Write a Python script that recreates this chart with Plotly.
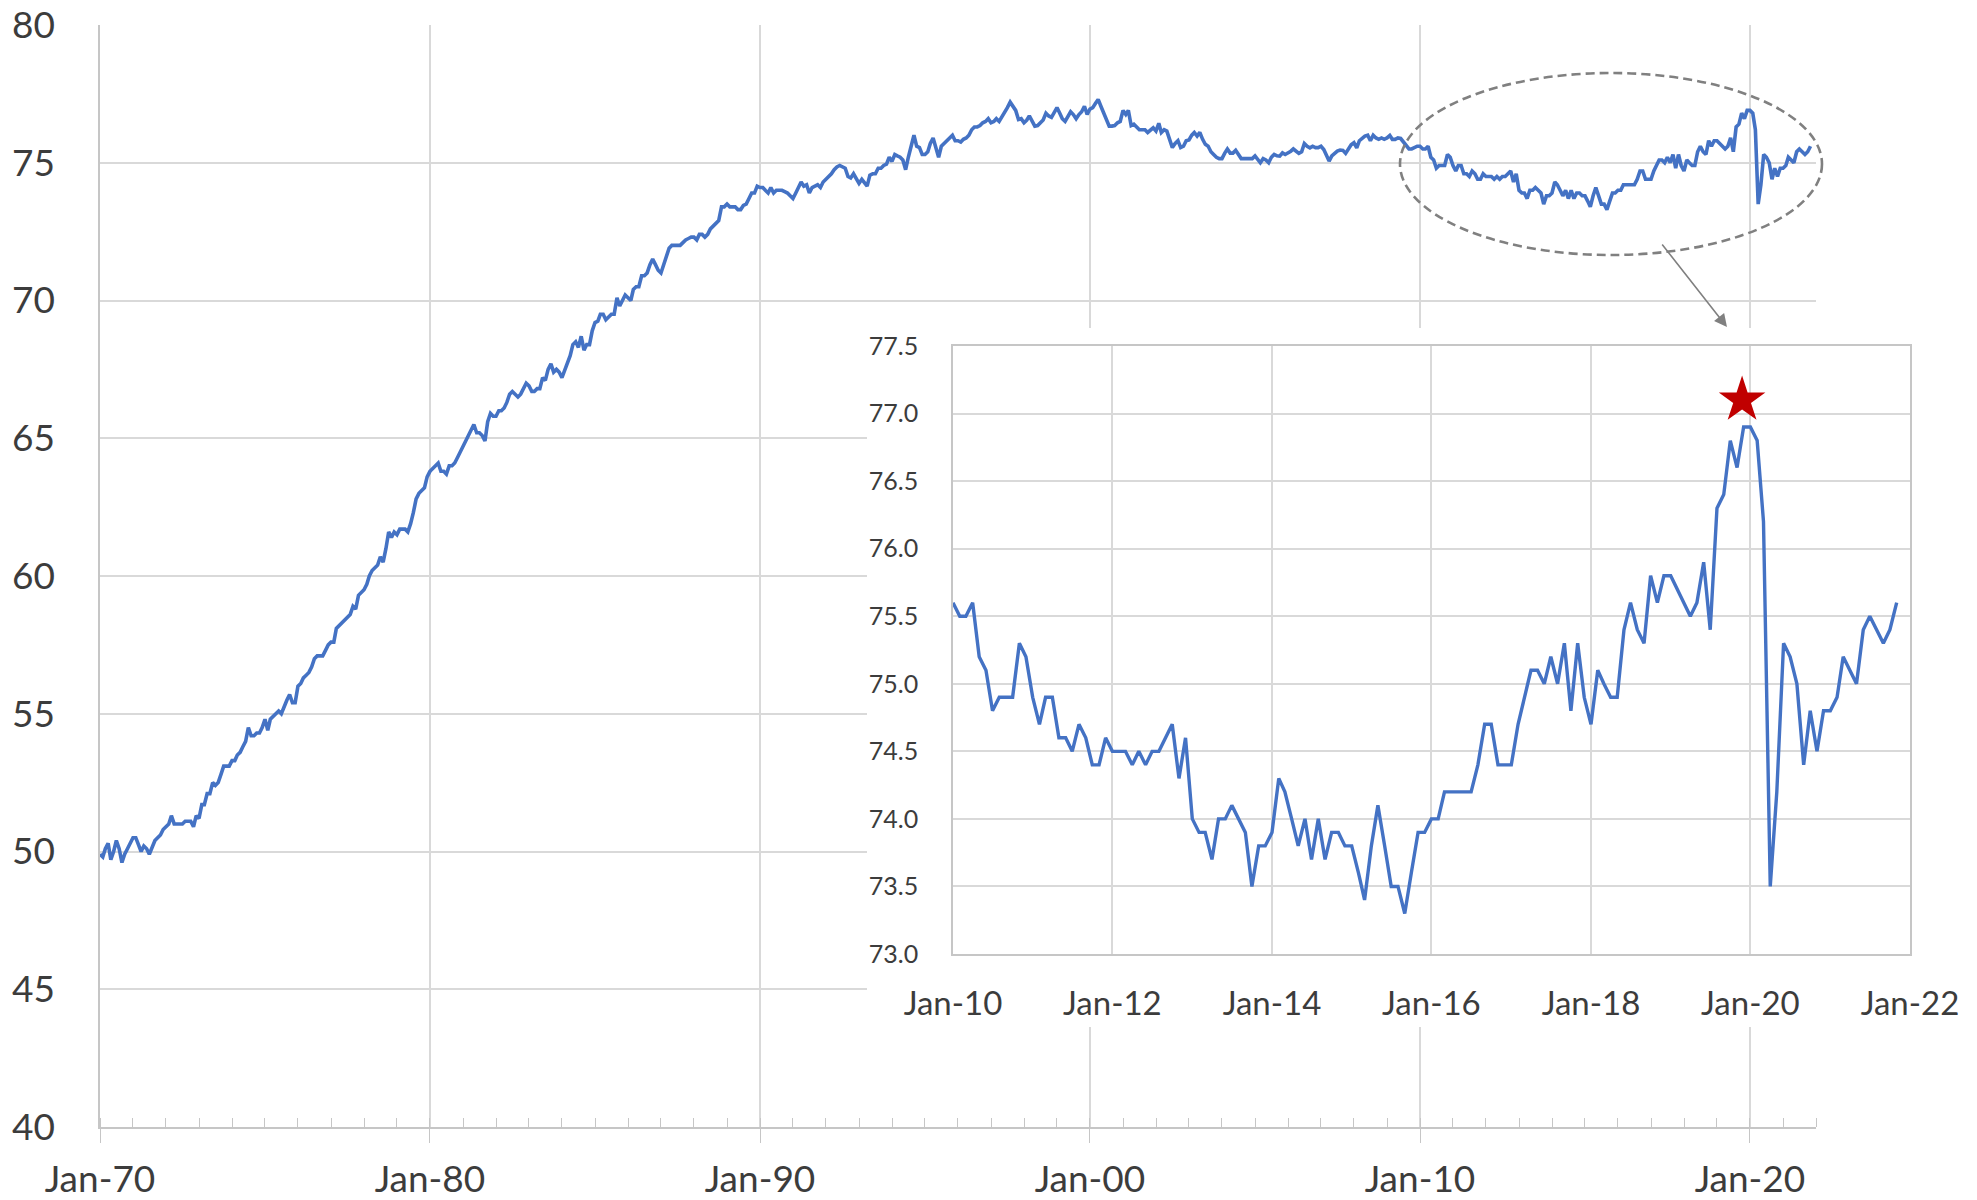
import pandas as pd
import plotly.graph_objects as go

# ---------------- data (monthly values) ----------------
v1970s = [
    49.9, 49.8, 50.1, 50.3, 49.7, 50.0, 50.4, 50.1, 49.6, 49.9, 50.1, 50.3,
    50.5, 50.5, 50.3, 50.0, 50.2, 50.1, 49.9, 50.2, 50.4, 50.5, 50.6, 50.8,
    50.9, 51.0, 51.3, 51.0, 51.0, 51.0, 51.0, 51.1, 51.1, 51.1, 50.9, 51.3,
    51.2, 51.7, 51.7, 52.1, 52.1, 52.5, 52.4, 52.5, 52.8, 53.1, 53.1, 53.1,
    53.3, 53.3, 53.5, 53.6, 53.8, 54.0, 54.5, 54.2, 54.2, 54.3, 54.3, 54.5,
    54.8, 54.4, 54.8, 54.9, 55.0, 55.1, 55.0, 55.3, 55.5, 55.7, 55.4, 55.4,
    56.0, 56.1, 56.3, 56.4, 56.5, 56.7, 57.0, 57.1, 57.1, 57.1, 57.3, 57.5,
    57.6, 57.6, 58.1, 58.2, 58.3, 58.4, 58.5, 58.6, 58.9, 58.8, 59.3, 59.4,
    59.5, 59.7, 60.0, 60.2, 60.3, 60.4, 60.7, 60.5, 61.0, 61.6, 61.4, 61.6,
    61.5, 61.7, 61.7, 61.7, 61.6, 61.9, 62.3, 62.8, 63.0, 63.1, 63.2, 63.6,
]
v1980s = [
    63.8, 63.9, 64.0, 64.1, 63.8, 63.8, 63.7, 64.0, 64.0, 64.1, 64.3, 64.5,
    64.7, 64.9, 65.1, 65.3, 65.5, 65.2, 65.2, 65.1, 64.9, 65.6, 65.9, 65.8,
    65.8, 66.0, 66.0, 66.1, 66.3, 66.6, 66.7, 66.6, 66.5, 66.6, 66.8, 67.0,
    66.9, 66.7, 66.7, 66.8, 66.8, 67.2, 67.1, 67.5, 67.7, 67.4, 67.5, 67.4,
    67.2, 67.5, 67.8, 68.0, 68.4, 68.5, 68.3, 68.7, 68.2, 68.4, 68.4, 68.9,
    69.2, 69.25, 69.5, 69.5, 69.3, 69.4, 69.5, 69.5, 70.1, 69.8, 70.0, 70.2,
    70.1, 70.0, 70.4, 70.5, 70.5, 70.9, 70.9, 71.0, 71.3, 71.5, 71.3, 71.1,
    71.0, 71.3, 71.6, 71.9, 72.0, 72.0, 72.0, 72.0, 72.1, 72.2, 72.25, 72.3,
    72.3, 72.2, 72.4, 72.4, 72.3, 72.4, 72.6, 72.7, 72.8, 72.9, 73.4, 73.4,
    73.5, 73.4, 73.4, 73.4, 73.3, 73.3, 73.45, 73.5, 73.7, 73.9, 73.9, 74.15,
]
v1990s = [
    74.1, 74.1, 74.0, 73.9, 74.1, 73.9, 74.0, 74.0, 74.0, 73.95, 73.9, 73.8,
    73.7, 73.9, 74.1, 74.3, 74.15, 74.2, 73.9, 74.1, 74.15, 74.2, 74.1, 74.3,
    74.4, 74.5, 74.6, 74.75, 74.85, 74.9, 74.85, 74.8, 74.5, 74.45, 74.6, 74.4,
    74.25, 74.4, 74.3, 74.15, 74.55, 74.6, 74.6, 74.8, 74.8, 74.9, 74.95, 75.2,
    75.05, 75.3, 75.25, 75.2, 75.1, 74.75, 75.2, 75.6, 76.0, 75.6, 75.55, 75.3,
    75.3, 75.4, 75.7, 75.9, 75.5, 75.2, 75.6, 75.7, 75.8, 75.9, 76.0, 75.8,
    75.8, 75.75, 75.85, 75.9, 76.0, 76.2, 76.3, 76.3, 76.35, 76.45, 76.5, 76.6,
    76.45, 76.5, 76.6, 76.5, 76.65, 76.85, 77.0, 77.2, 77.05, 76.9, 76.57, 76.6,
    76.45, 76.55, 76.7, 76.5, 76.33, 76.35, 76.45, 76.55, 76.8, 76.7, 76.65, 76.85,
    77.0, 76.8, 76.6, 76.5, 76.7, 76.85, 76.75, 76.6, 76.75, 76.85, 77.05, 76.75,
]
v2000s = [
    76.95, 77.0, 77.15, 77.3, 77.05, 76.8, 76.5, 76.33, 76.33, 76.35, 76.45, 76.5,
    76.9, 76.75, 76.9, 76.35, 76.4, 76.3, 76.2, 76.2, 76.2, 76.1, 76.2, 76.27,
    76.15, 76.43, 76.1, 76.2, 76.15, 75.8, 75.55, 75.7, 75.8, 75.55, 75.6, 75.8,
    75.83, 76.0, 76.1, 75.97, 76.1, 75.85, 75.67, 75.6, 75.4, 75.3, 75.2, 75.15,
    75.15, 75.35, 75.5, 75.35, 75.35, 75.45, 75.3, 75.15, 75.15, 75.15, 75.17, 75.15,
    75.25, 75.1, 75.0, 75.15, 75.1, 75.0, 75.2, 75.3, 75.25, 75.24, 75.36, 75.3,
    75.35, 75.42, 75.5, 75.4, 75.34, 75.4, 75.7, 75.6, 75.54, 75.6, 75.55, 75.55,
    75.6, 75.48, 75.3, 75.06, 75.25, 75.35, 75.42, 75.46, 75.45, 75.34, 75.5, 75.65,
    75.73, 75.54, 75.8, 75.9, 75.97, 76.0, 75.8, 76.0, 75.9, 75.85, 75.9, 75.85,
    75.9, 75.99, 75.85, 75.85, 75.9, 75.88, 75.75, 75.6, 75.5, 75.5, 75.55, 75.6,
]
v2010s = [
    75.6, 75.5, 75.5, 75.6, 75.2, 75.1, 74.8, 74.9, 74.9, 74.9, 75.3, 75.2,
    74.9, 74.7, 74.9, 74.9, 74.6, 74.6, 74.5, 74.7, 74.6, 74.4, 74.4, 74.6,
    74.5, 74.5, 74.5, 74.4, 74.5, 74.4, 74.5, 74.5, 74.6, 74.7, 74.3, 74.6,
    74.0, 73.9, 73.9, 73.7, 74.0, 74.0, 74.1, 74.0, 73.9, 73.5, 73.8, 73.8,
    73.9, 74.3, 74.2, 74.0, 73.8, 74.0, 73.7, 74.0, 73.7, 73.9, 73.9, 73.8,
    73.8, 73.6, 73.4, 73.8, 74.1, 73.8, 73.5, 73.5, 73.3, 73.6, 73.9, 73.9,
    74.0, 74.0, 74.2, 74.2, 74.2, 74.2, 74.2, 74.4, 74.7, 74.7, 74.4, 74.4,
    74.4, 74.7, 74.9, 75.1, 75.1, 75.0, 75.2, 75.0, 75.3, 74.8, 75.3, 74.9,
    74.7, 75.1, 75.0, 74.9, 74.9, 75.4, 75.6, 75.4, 75.3, 75.8, 75.6, 75.8,
    75.8, 75.7, 75.6, 75.5, 75.6, 75.9, 75.4, 76.3, 76.4, 76.8, 76.6, 76.9,
]
v2020s = [
    76.9, 76.8, 76.2, 73.5, 74.2, 75.3, 75.2, 75.0, 74.4, 74.8, 74.5, 74.8,
    74.8, 74.9, 75.2, 75.1, 75.0, 75.4, 75.5, 75.4, 75.3, 75.4, 75.6,
]

values = v1970s + v1980s + v1990s + v2000s + v2010s + v2020s
dates = pd.date_range("1970-01-01", periods=len(values), freq="MS")

inset_start = "2010-01-01"
inset_dates = [d for d in dates if d >= pd.Timestamp(inset_start)]
inset_values = values[len(values) - len(inset_dates):]

peak_marker_x = ["2019-11-24"]
peak_marker_y = [77.1]

main_yticks = [40, 45, 50, 55, 60, 65, 70, 75, 80]
inset_yticks = [73.0, 73.5, 74.0, 74.5, 75.0, 75.5, 76.0, 76.5, 77.0, 77.5]

# ---------------- layout helpers ----------------
# the page body adds an 8px margin, so the figure is shifted by that amount
OFF = 8
W, H = 1977 - OFF, 1200 - OFF
def px(x):
    return (x - OFF) / W
def py(y):
    return 1 - (y - OFF) / H

BLUE = "#4472C4"
GRID = "#d9d9d9"
AXIS = "#c6c6c6"
TEXT = "#3c3c3c"
FONT = "Lato"

fig = go.Figure()

fig.add_trace(go.Scatter(
    x=dates, y=values, mode="lines",
    line=dict(color=BLUE, width=3.6),
    xaxis="x", yaxis="y", showlegend=False, hoverinfo="skip",
))
# empty trace to create the white backing panel of the inset
fig.add_trace(go.Scatter(x=[], y=[], xaxis="x2", yaxis="y2",
                         showlegend=False, hoverinfo="skip"))
fig.add_trace(go.Scatter(
    x=inset_dates, y=inset_values, mode="lines",
    line=dict(color=BLUE, width=3.4),
    xaxis="x3", yaxis="y3", showlegend=False, hoverinfo="skip",
))
fig.add_trace(go.Scatter(
    x=peak_marker_x, y=peak_marker_y, mode="markers",
    marker=dict(symbol="star", size=35, color="#C00000", line=dict(width=0)),
    xaxis="x3", yaxis="y3", showlegend=False, hoverinfo="skip",
))

fig.update_layout(
    width=W, height=H, autosize=False,
    margin=dict(l=0, r=0, t=0, b=0, pad=0),
    paper_bgcolor="white", plot_bgcolor="white",
    font=dict(family=FONT, color=TEXT),
    xaxis=dict(
        domain=[px(100), px(1816)], anchor="y", automargin=False,
        type="date", range=["1970-01-01", "2022-01-01"],
        tick0="1970-01-01", dtick="M120", tickformat="%b-%y",
        showgrid=True, gridcolor=GRID, gridwidth=1.5,
        showline=True, linecolor=AXIS, linewidth=1.6,
        ticks="outside", ticklen=14, tickcolor=AXIS, tickwidth=1.4,
        minor=dict(dtick="M12", tick0="1970-01-01", ticks="inside",
                   ticklen=9, tickcolor=AXIS, tickwidth=1.4, showgrid=False),
        tickfont=dict(size=37, family=FONT, color=TEXT),
        ticklabelstandoff=5, ticklabeloverflow="allow",
        zeroline=False,
    ),
    yaxis=dict(
        domain=[py(1127), py(25)], anchor="x", automargin=False,
        range=[40, 80], tickvals=main_yticks,
        showgrid=True, gridcolor=GRID, gridwidth=1.5,
        showline=True, linecolor=AXIS, linewidth=1.5,
        ticks="", tickfont=dict(size=37, family=FONT, color=TEXT),
        ticklabelstandoff=36, ticklabeloverflow="allow", zeroline=False,
    ),
    xaxis2=dict(
        domain=[px(867), 1.0], anchor="y2", range=[0, 1], automargin=False,
        showgrid=False, showline=False, zeroline=False,
        showticklabels=False, ticks="",
    ),
    yaxis2=dict(
        domain=[py(1027), py(328)], anchor="x2", range=[0, 1], automargin=False,
        showgrid=False, showline=False, zeroline=False,
        showticklabels=False, ticks="",
    ),
    xaxis3=dict(
        domain=[px(953), px(1910)], anchor="y3", automargin=False,
        type="date", range=["2010-01-01", "2022-01-01"],
        tick0="2010-01-01", dtick="M24", tickformat="%b-%y",
        showgrid=True, gridcolor=GRID, gridwidth=1.5,
        showline=True, linecolor=AXIS, linewidth=1.6, mirror=True,
        ticks="", tickfont=dict(size=33, family=FONT, color=TEXT),
        ticklabelstandoff=20, ticklabeloverflow="allow", zeroline=False,
    ),
    yaxis3=dict(
        domain=[py(954), py(346)], anchor="x3", automargin=False,
        range=[73.0, 77.5], tickvals=inset_yticks, tickformat=".1f",
        showgrid=True, gridcolor=GRID, gridwidth=1.5,
        showline=True, linecolor=AXIS, linewidth=1.5, mirror=True,
        ticks="", tickfont=dict(size=25, family=FONT, color=TEXT),
        ticklabelstandoff=28, ticklabeloverflow="allow", zeroline=False,
    ),
)

# dashed ellipse highlighting the recent period on the main chart
fig.add_shape(
    type="circle", xref="paper", yref="paper",
    x0=px(1400), x1=px(1822), y0=py(255), y1=py(73),
    line=dict(color="#808080", width=2.6, dash="9px,5px"),
    fillcolor="rgba(0,0,0,0)", layer="above",
)
# arrow pointing from the ellipse to the inset
fig.add_annotation(
    xref="paper", yref="paper", x=px(1727), y=py(327),
    ax=-66, ay=-84, axref="pixel", ayref="pixel",
    text="", showarrow=True, arrowhead=2, arrowsize=1.6,
    arrowwidth=1.6, arrowcolor="#808080", standoff=0,
)

fig.write_html("out.html")
